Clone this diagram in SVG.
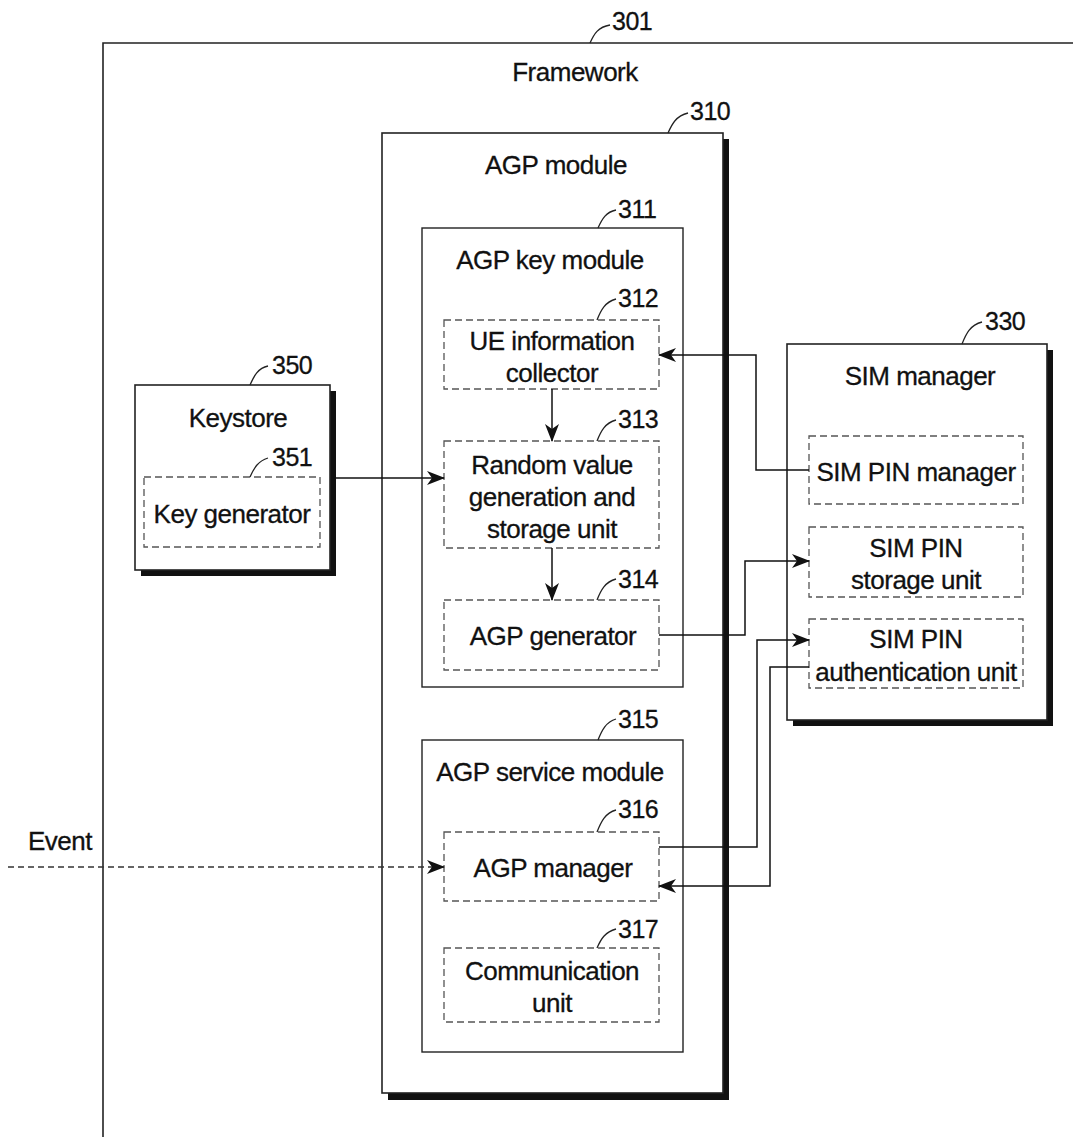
<svg xmlns="http://www.w3.org/2000/svg" width="1073" height="1137" viewBox="0 0 1073 1137">
<defs>
<style>
text{font-family:"Liberation Sans",Arial,sans-serif;fill:#111;stroke:#111;stroke-width:0.3;}
.t{font-size:26px;text-anchor:middle;letter-spacing:-0.5px;}
.n{font-size:25px;letter-spacing:-0.5px;}
.outer{fill:#fff;stroke:#222;stroke-width:1.6;}
.shadow{fill:#111;}
.mid{fill:#fff;stroke:#222;stroke-width:1.4;}
.inner{fill:#fff;stroke:#555;stroke-width:1.3;stroke-dasharray:7,4;}
.lead{fill:none;stroke:#222;stroke-width:1.3;}
.conn{fill:none;stroke:#111;stroke-width:1.5;}
.dash{fill:none;stroke:#333;stroke-width:1.3;stroke-dasharray:6,4;}
</style>
<marker id="arr" viewBox="0 0 18 14" refX="17" refY="7" markerWidth="18" markerHeight="14" markerUnits="userSpaceOnUse" orient="auto">
<path d="M0,0 L18,7 L0,14 L5,7 Z" fill="#111"/>
</marker>
</defs>
<rect width="1073" height="1137" fill="#fff"/>

<g id="framework">
<path d="M103,1137 L103,43 L1073,43" fill="none" stroke="#222" stroke-width="1.6"/>
<text class="t" x="575" y="81">Framework</text>
<path class="lead" d="M590,43 C594,34 598,27 610,25"/>
<text class="n" x="612" y="30">301</text>
</g>

<g id="agp-module">
<rect class="shadow" x="388" y="139" width="341" height="961"/>
<rect class="outer" x="382" y="133" width="341" height="960"/>
<text class="t" x="556" y="174">AGP module</text>
<path class="lead" d="M668,133 C672,124 676,116 688,113"/>
<text class="n" x="690" y="120">310</text>
</g>

<g id="agp-key-module">
<rect class="mid" x="422" y="228" width="261" height="459"/>
<text class="t" x="550" y="269">AGP key module</text>
<path class="lead" d="M598,228 C602,219 606,212 616,210"/>
<text class="n" x="618" y="218">311</text>
</g>

<g id="ue-info">
<rect class="inner" x="444" y="320" width="215" height="69"/>
<text class="t" x="552" y="350">UE information</text>
<text class="t" x="552" y="382">collector</text>
<path class="lead" d="M597,320 C601,310 605,302 616,299"/>
<text class="n" x="618" y="307">312</text>
</g>

<g id="random-value">
<rect class="inner" x="444" y="441" width="215" height="107"/>
<text class="t" x="552" y="474">Random value</text>
<text class="t" x="552" y="506">generation and</text>
<text class="t" x="552" y="538">storage unit</text>
<path class="lead" d="M597,441 C601,431 605,423 616,420"/>
<text class="n" x="618" y="428">313</text>
</g>

<g id="agp-generator">
<rect class="inner" x="444" y="600" width="215" height="70"/>
<text class="t" x="553" y="645">AGP generator</text>
<path class="lead" d="M597,600 C601,590 605,582 616,579"/>
<text class="n" x="618" y="588">314</text>
</g>

<g id="agp-service-module">
<rect class="mid" x="422" y="740" width="261" height="312"/>
<text class="t" x="550" y="781">AGP service module</text>
<path class="lead" d="M598,740 C602,730 606,722 616,719"/>
<text class="n" x="618" y="728">315</text>
</g>

<g id="agp-manager">
<rect class="inner" x="444" y="832" width="215" height="69"/>
<text class="t" x="553" y="877">AGP manager</text>
<path class="lead" d="M597,832 C601,822 605,813 616,810"/>
<text class="n" x="618" y="818">316</text>
</g>

<g id="communication-unit">
<rect class="inner" x="444" y="948" width="215" height="74"/>
<text class="t" x="552" y="980">Communication</text>
<text class="t" x="552" y="1012">unit</text>
<path class="lead" d="M597,948 C601,939 605,932 616,929"/>
<text class="n" x="618" y="938">317</text>
</g>

<g id="keystore">
<rect class="shadow" x="141" y="391" width="195" height="185"/>
<rect class="outer" x="135" y="385" width="195" height="185"/>
<text class="t" x="238" y="427">Keystore</text>
<path class="lead" d="M250,385 C254,376 258,368 268,366"/>
<text class="n" x="272" y="374">350</text>
</g>

<g id="key-generator">
<rect class="inner" x="144" y="477" width="176" height="70"/>
<text class="t" x="232" y="523">Key generator</text>
<path class="lead" d="M250,477 C254,468 258,461 268,458"/>
<text class="n" x="272" y="466">351</text>
</g>

<g id="sim-manager">
<rect class="shadow" x="793" y="350" width="260" height="376"/>
<rect class="outer" x="787" y="344" width="260" height="376"/>
<text class="t" x="920" y="385">SIM manager</text>
<path class="lead" d="M962,344 C966,334 970,325 982,322"/>
<text class="n" x="985" y="330">330</text>
</g>

<g id="sim-pin-manager">
<rect class="inner" x="809" y="436" width="214" height="68"/>
<text class="t" x="916" y="481">SIM PIN manager</text>
</g>

<g id="sim-pin-storage">
<rect class="inner" x="809" y="527" width="214" height="70"/>
<text class="t" x="916" y="557">SIM PIN</text>
<text class="t" x="916" y="589">storage unit</text>
</g>

<g id="sim-pin-auth">
<rect class="inner" x="809" y="619" width="214" height="69"/>
<text class="t" x="916" y="648">SIM PIN</text>
<text class="t" x="916" y="681">authentication unit</text>
</g>

<g id="event-label">
<text class="t" x="60" y="850">Event</text>
</g>

<g id="connectors">
<path class="conn" d="M552,389 L552,441" marker-end="url(#arr)"/>
<path class="conn" d="M552,548 L552,600" marker-end="url(#arr)"/>
<path class="conn" d="M336,478 L444,478" marker-end="url(#arr)"/>
<path class="conn" d="M809,470 L756,470 L756,355 L659,355" marker-end="url(#arr)"/>
<path class="conn" d="M659,635 L745,635 L745,561 L809,561" marker-end="url(#arr)"/>
<path class="conn" d="M659,847 L757,847 L757,640 L809,640" marker-end="url(#arr)"/>
<path class="conn" d="M809,667 L770,667 L770,886 L659,886" marker-end="url(#arr)"/>
<path class="dash" d="M8,867 L444,867" marker-end="url(#arr)"/>
</g>
</svg>
